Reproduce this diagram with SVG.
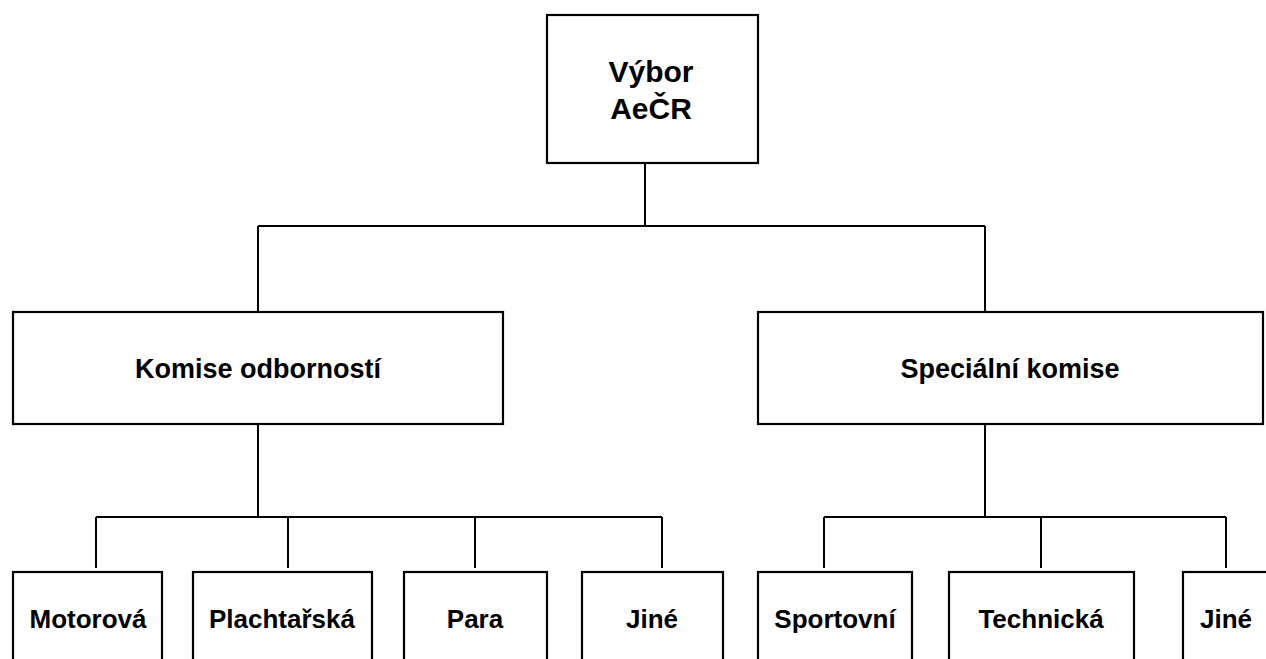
<svg xmlns="http://www.w3.org/2000/svg" width="1266" height="659" viewBox="0 0 1266 659">
<style>
.box{fill:#fff;stroke:#000;stroke-width:2.2}
.ln{fill:none;stroke:#000;stroke-width:2}
text{font-family:"Liberation Sans",Arial,sans-serif;font-weight:bold;fill:#000;text-anchor:middle}
.t1{font-size:30px}
.t2{font-size:27px}
.t3{font-size:26px}
</style>
<rect width="1266" height="659" fill="#fff"/>
<g id="connectors">
<path class="ln" d="M645 163V226M258 226H985M258 226V312M985 226V312"/>
<path class="ln" d="M258 424V517M96 517H662M96 517V568M288 517V568M475 517V568M662 517V568"/>
<path class="ln" d="M985 424V517M824 517H1226M824 517V568M1041 517V568M1226 517V568"/>
</g>
<g id="vybor"><rect class="box" x="547" y="15" width="211" height="148"/><text class="t1" x="651" y="82">Výbor</text><text class="t1" x="651" y="119">AeČR</text></g>
<g id="komise-odbornosti"><rect class="box" x="13" y="312" width="490" height="112"/><text class="t2" x="258" y="378">Komise odborností</text></g>
<g id="specialni-komise"><rect class="box" x="758" y="312" width="505" height="112"/><text class="t2" x="1010" y="378">Speciální komise</text></g>
<g id="motorova"><rect class="box" x="13" y="572" width="149" height="100"/><text class="t3" x="88" y="628">Motorová</text></g>
<g id="plachtarska"><rect class="box" x="193" y="572" width="179" height="100"/><text class="t3" x="282" y="628">Plachtařská</text></g>
<g id="para"><rect class="box" x="404" y="572" width="143" height="100"/><text class="t3" x="475" y="628">Para</text></g>
<g id="jine-1"><rect class="box" x="582" y="572" width="141" height="100"/><text class="t3" x="652" y="628">Jiné</text></g>
<g id="sportovni"><rect class="box" x="758" y="572" width="154" height="100"/><text class="t3" x="835" y="628">Sportovní</text></g>
<g id="technicka"><rect class="box" x="949" y="572" width="185" height="100"/><text class="t3" x="1041" y="628">Technická</text></g>
<g id="jine-2"><rect class="box" x="1183" y="572" width="120" height="100"/><text class="t3" x="1226" y="628">Jiné</text></g>
</svg>
